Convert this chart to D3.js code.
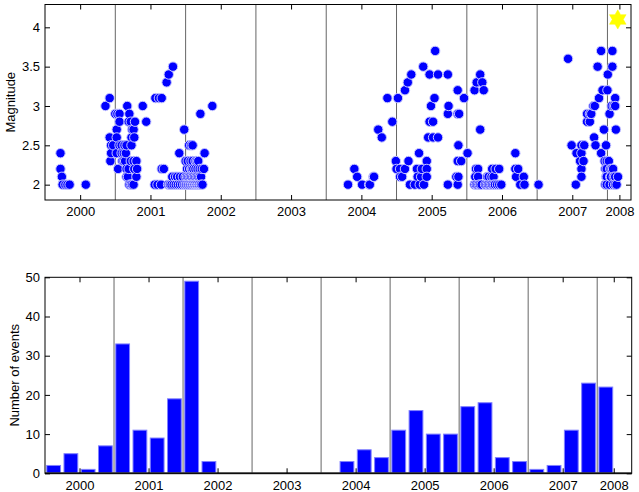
<!DOCTYPE html>
<html><head><meta charset="utf-8">
<script src="https://cdn.jsdelivr.net/npm/d3@7"></script>
<style>
body{margin:0;background:#fff;}
svg text{font-family:"Liberation Sans",Arial,Helvetica,sans-serif;font-size:13px;fill:#000;}
</style></head><body>
<svg id="chart" width="639" height="492"></svg>
<script>
// ---- Data: [decimal year, magnitude] ----
const events2000 = [
 [1999.72,2.4],[1999.72,2.2],[1999.74,2.1],[1999.75,2.0],[1999.79,2.0],[1999.82,2.0],[1999.85,2.0],[2000.08,2.0],
 [2000.36,3.0],[2000.42,3.1],[2000.42,2.6],[2000.44,2.5],[2000.44,2.4],[2000.43,2.3],[2000.47,2.5],
 [2000.67,3.0],[2000.50,2.9],[2000.53,2.9],[2000.56,2.9],[2000.70,2.9],[2000.56,2.8],[2000.69,2.8],[2000.72,2.8],
 [2000.52,2.7],[2000.74,2.7],[2000.52,2.6],[2000.73,2.6],[2000.56,2.5],[2000.59,2.5],[2000.63,2.5],[2000.66,2.5],
 [2000.73,2.5],[2000.52,2.4],[2000.59,2.4],[2000.62,2.4],[2000.65,2.4],[2000.60,2.3],[2000.62,2.3],[2000.64,2.3],
 [2000.72,2.3],[2000.54,2.2],[2000.66,2.2],[2000.69,2.2],[2000.66,2.1],[2000.68,2.1],[2000.70,2.0],[2000.72,2.0],
 [2000.74,2.0],
 [2000.76,2.7],[2000.77,2.6],[2000.76,2.3],[2000.80,2.3],[2000.77,2.2],[2000.81,2.2],[2000.80,2.1],[2000.76,2.0],
 [2000.78,2.8],[2000.89,3.0],[2000.94,2.8]
];
const events2001 = [
 [2001.06,2.0],[2001.07,3.1],[2001.10,2.0],[2001.12,3.1],[2001.15,2.0],[2001.16,3.1],[2001.16,2.2],[2001.19,2.2],[2001.23,3.3],
 [2001.25,2.0],[2001.26,3.4],[2001.27,2.0],[2001.28,2.0],[2001.30,2.0],[2001.31,2.1],[2001.32,3.5],[2001.33,2.0],
 [2001.35,2.1],[2001.36,2.0],[2001.38,2.1],[2001.39,2.0],[2001.41,2.4],[2001.42,2.1],[2001.42,2.0],[2001.45,2.0],
 [2001.46,2.1],[2001.48,2.0],[2001.48,2.7],
 [2001.71,2.9],[2001.55,2.5],[2001.58,2.5],[2001.60,2.5],
 [2001.50,2.3],[2001.53,2.3],[2001.57,2.3],[2001.60,2.3],[2001.64,2.3],[2001.66,2.3],[2001.68,2.3],
 [2001.52,2.2],[2001.55,2.2],[2001.58,2.2],[2001.59,2.2],[2001.61,2.2],[2001.64,2.2],[2001.67,2.2],[2001.70,2.2],[2001.73,2.2],
 [2001.50,2.1],[2001.52,2.1],[2001.54,2.1],[2001.56,2.1],[2001.58,2.1],[2001.60,2.1],[2001.62,2.1],[2001.64,2.1],
 [2001.66,2.1],[2001.68,2.1],[2001.70,2.1],[2001.72,2.1],
 [2001.50,2.0],[2001.51,2.0],[2001.53,2.0],[2001.54,2.0],[2001.56,2.0],[2001.57,2.0],[2001.59,2.0],[2001.60,2.0],
 [2001.62,2.0],[2001.63,2.0],[2001.65,2.0],[2001.66,2.0],[2001.68,2.0],[2001.69,2.0],[2001.71,2.0],[2001.72,2.0],[2001.74,2.0],
 [2001.76,2.2],[2001.77,2.4],[2001.88,3.0]
];
const events2004 = [
 [2003.81,2.0],[2003.90,2.2],[2003.94,2.1],
 [2004.01,2.0],[2004.11,2.0],[2004.12,2.0],[2004.17,2.1],[2004.18,2.1],[2004.24,2.7],
 [2004.29,2.6],[2004.37,3.1],[2004.44,2.8],[2004.49,2.3],
 [2004.50,2.2],[2004.52,3.1],[2004.55,2.2],[2004.55,2.1],[2004.58,2.1],[2004.62,2.2],[2004.62,3.2],[2004.66,3.3],
 [2004.67,2.3],[2004.69,2.0],[2004.71,3.4],
 [2004.76,2.0],[2004.79,2.2],[2004.80,2.1],[2004.82,2.4],[2004.83,2.0],[2004.85,2.1],[2004.86,2.2],[2004.88,3.5],
 [2004.89,2.0],[2004.93,2.3],[2004.93,2.2],[2004.93,2.1],[2004.95,2.6],[2004.97,2.8],[2004.97,3.4],[2004.99,3.0]
];
const events2005 = [
 [2005.02,2.6],[2005.02,2.8],[2005.04,3.1],[2005.05,3.7],[2005.09,3.4],[2005.09,2.6],[2005.23,3.4],[2005.23,2.9],
 [2005.23,2.0],[2005.24,3.0],
 [2005.35,2.1],[2005.37,2.9],[2005.37,3.2],[2005.37,2.3],[2005.37,2.0],[2005.38,2.5],[2005.38,2.1],[2005.39,2.9],
 [2005.42,2.3],[2005.46,3.1],
 [2005.51,2.4],[2005.61,3.2],[2005.61,2.0],[2005.62,2.1],[2005.63,2.2],[2005.63,2.0],[2005.64,3.3],[2005.65,2.0],
 [2005.66,2.2],[2005.66,2.1],[2005.67,2.0],[2005.69,3.4],[2005.69,2.7],[2005.69,2.0],[2005.71,2.0],[2005.72,3.3],[2005.74,3.2],
 [2005.76,2.0],[2005.78,2.0],[2005.79,2.1],[2005.80,2.0],[2005.81,2.1],[2005.82,2.0],[2005.84,2.0],[2005.85,2.1],
 [2005.86,2.2],[2005.86,2.0],[2005.88,2.1],[2005.88,2.0],[2005.90,2.0],[2005.91,2.2],[2005.93,2.0],[2005.96,2.2],
 [2005.96,2.0],[2005.99,2.0]
];
const events2006 = [
 [2006.19,2.4],[2006.19,2.2],[2006.20,2.1],[2006.23,2.2],
 [2006.26,2.0],[2006.31,2.1],[2006.32,2.0],
 [2006.52,2.0],
 [2006.94,3.6],[2006.99,2.5]
];
const events2007 = [
 [2007.05,2.0],[2007.06,2.4],[2007.11,2.3],[2007.13,2.5],[2007.13,2.4],[2007.13,2.2],[2007.13,2.1],[2007.16,2.3],
 [2007.17,2.5],[2007.21,2.8],[2007.21,2.9],
 [2007.25,2.8],[2007.25,2.9],[2007.27,2.9],[2007.30,3.0],[2007.31,2.6],[2007.32,3.0],[2007.33,2.5],[2007.36,3.5],
 [2007.38,3.1],[2007.41,3.7],[2007.41,2.4],[2007.43,3.2],[2007.45,2.7],[2007.46,2.3],[2007.47,2.0],[2007.47,2.2],
 [2007.48,2.5],[2007.48,2.1],[2007.49,2.3],[2007.49,2.2],[2007.49,2.1],[2007.49,2.0],[2007.50,3.2],
 [2007.505,3.4],[2007.52,2.3],[2007.53,2.9],[2007.53,2.0],[2007.54,2.2],[2007.54,2.1],[2007.55,2.1],[2007.56,2.2],
 [2007.56,3.0],[2007.57,3.7],[2007.57,3.5],[2007.58,2.2],[2007.58,2.0],[2007.59,2.1],[2007.59,3.0],[2007.61,3.1],
 [2007.61,3.0],[2007.61,2.1],[2007.61,2.0],[2007.62,2.7],[2007.63,2.0],[2007.65,2.1]
];
const starEvent = [2007.647, 4.1];

// Quarterly histogram
const binCenters = [1999.625,1999.875,2000.125,2000.375,2000.625,2000.875,2001.125,2001.375,2001.625,2001.875,
 2002.125,2002.375,2002.625,2002.875,2003.125,2003.375,2003.625,2003.875,2004.125,2004.375,2004.625,2004.875,
 2005.125,2005.375,2005.625,2005.875,2006.125,2006.375,2006.625,2006.875,2007.125,2007.375,2007.625];
const binCounts = [2,5,1,7,33,11,9,19,49,3,0,0,0,0,0,0,0,3,6,4,11,16,10,10,17,18,4,3,1,2,11,23,22];

const tickLabels = ["2000","2001","2002","2003","2004","2005","2006","2007","2008"];
const topTickYears = [2000,2001,2002,2003,2004,2005,2006,2007,2007.67];
const bottomTickYears = [2000,2001,2002,2003,2004,2005,2006,2007,2007.74];
const divisionYears = [2000.5,2001.5,2002.5,2003.5,2004.5,2005.5,2006.5,2007.5];
const magTicks = [2,2.5,3,3.5,4];
const countTicks = [0,10,20,30,40,50];

// ---- Drawing ----
const svg = d3.select("#chart");
const L = 45;

function frame(g, x, y, xTicks, yTicks, yFmt) {
  const [x0,x1] = x.range(), [y0,y1] = y.range();
  const lab = d => tickLabels[xTicks.indexOf(d)];
  g.append("g").attr("transform",`translate(0,${y0})`)
    .call(d3.axisBottom(x).tickValues(xTicks).tickFormat(lab).tickSizeInner(-5).tickSizeOuter(0).tickPadding(7));
  g.append("g").attr("transform",`translate(0,${y1})`)
    .call(d3.axisTop(x).tickValues(xTicks).tickFormat("").tickSizeInner(-5).tickSizeOuter(0));
  g.append("g").attr("transform",`translate(${x0},0)`)
    .call(d3.axisLeft(y).tickValues(yTicks).tickFormat(yFmt).tickSizeInner(-5).tickSizeOuter(0).tickPadding(5));
  g.append("g").attr("transform",`translate(${x1},0)`)
    .call(d3.axisRight(y).tickValues(yTicks).tickFormat("").tickSizeInner(-5).tickSizeOuter(0));
  g.selectAll(".domain").remove();
  g.selectAll(".tick line").attr("stroke","#000");
  g.selectAll(".tick text").attr("font-size",13.5).attr("font-family","'Liberation Sans',Arial,sans-serif");
  g.append("rect").attr("x",x0).attr("y",y1).attr("width",x1-x0).attr("height",y0-y1)
    .attr("fill","none").attr("stroke","#000").attr("stroke-width",1);
}

function divisions(g, x, y) {
  const [y0,y1] = y.range();
  g.selectAll("line.div").data(divisionYears).join("line").attr("class","div")
    .attr("x1",d=>x(d)).attr("x2",d=>x(d)).attr("y1",y0).attr("y2",y1)
    .attr("stroke","#666").attr("stroke-width",1);
}

// Top panel: magnitudes
const xT = d3.scaleLinear().domain([1999.5,2007.835]).range([L,631]);
const yT = d3.scaleLinear().domain([1.805,4.29]).range([200,4.5]);
const gT = svg.append("g");
divisions(gT, xT, yT);
const allEvents = d3.sort([].concat(events2000,events2001,events2004,events2005,events2006,events2007), d=>d[0]);
gT.append("g").selectAll("circle").data(allEvents).join("circle")
  .attr("cx",d=>xT(d[0])).attr("cy",d=>yT(d[1])).attr("r",4.7)
  .attr("fill","#0000ff").attr("stroke","#c8c8ff").attr("stroke-width",1);
// hexagram star
const R = 9.6, r = R/Math.sqrt(3);
const starPts = d3.range(12).map(i=>{
  const a = -Math.PI/2 + i*Math.PI/6, rr = i%2===0?R:r;
  return [rr*Math.cos(a), rr*Math.sin(a)];
});
gT.append("path").attr("d","M"+starPts.join("L")+"Z")
  .attr("transform",`translate(${xT(starEvent[0])},${yT(starEvent[1])})`)
  .attr("fill","#ffff00").attr("stroke","#ffff00").attr("stroke-width",0.5);
frame(gT, xT, yT, topTickYears, magTicks, d=>String(d));
gT.append("text").attr("transform",`translate(15,${(200+4.5)/2}) rotate(-90)`)
  .attr("text-anchor","middle").attr("font-size",13.5).text("Magnitude");

// Bottom panel: counts
const xB = d3.scaleLinear().domain([1999.5,2008]).range([L,631.7]);
const yB = d3.scaleLinear().domain([0,50]).range([473.3,277.3]);
const gB = svg.append("g");
divisions(gB, xB, yB);
const bins = binCenters.map((c,i)=>({c, n: binCounts[i]})).filter(d=>d.n>0);
gB.append("g").selectAll("rect").data(bins).join("rect")
  .attr("x",d=>xB(d.c-0.1)).attr("width",d=>xB(d.c+0.1)-xB(d.c-0.1))
  .attr("y",d=>yB(d.n)).attr("height",d=>yB(0)-yB(d.n))
  .attr("fill","#0000ff").attr("stroke","#8080ff").attr("stroke-width",1);
gB.append("line").attr("x1",L).attr("x2",631.7).attr("y1",yB(0)).attr("y2",yB(0))
  .attr("stroke","#444").attr("stroke-width",2);
frame(gB, xB, yB, bottomTickYears, countTicks, d=>String(d));
gB.append("text").attr("transform",`translate(19,${(473.3+277.3)/2}) rotate(-90)`)
  .attr("text-anchor","middle").attr("font-size",13.5).text("Number of events");
</script>
</body></html>
